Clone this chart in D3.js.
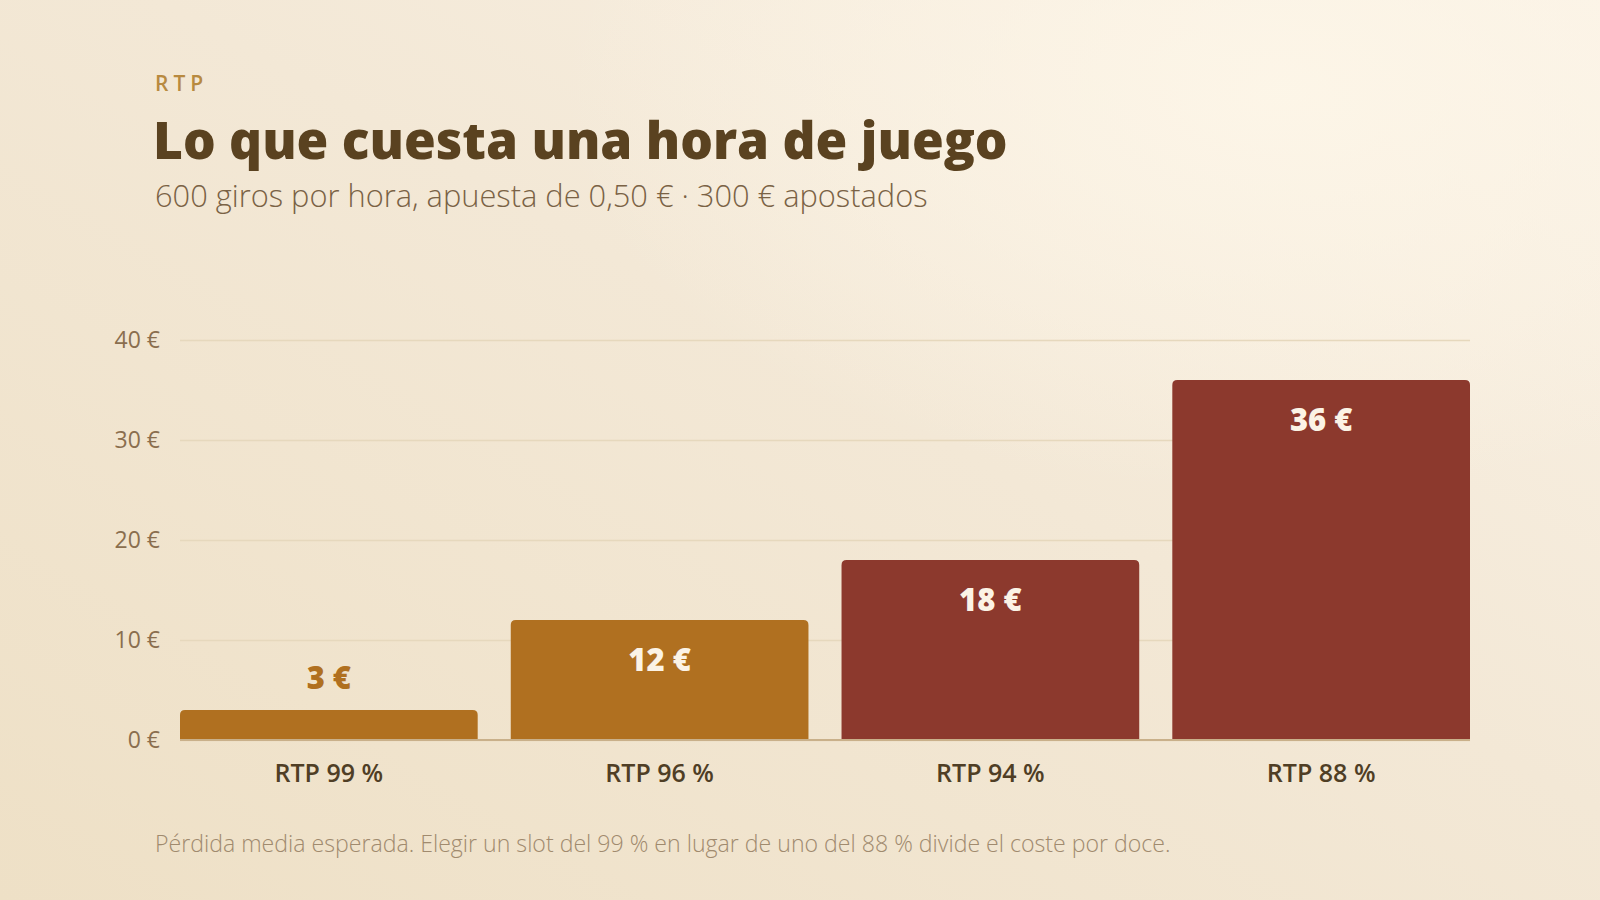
<!DOCTYPE html>
<html>
<head>
<meta charset="utf-8">
<script src="https://cdn.jsdelivr.net/npm/d3@7"></script>
<style>
  html, body { margin: 0; padding: 0; }
  body { width: 1600px; height: 900px; overflow: hidden; }
  svg { display: block; font-family: "Open Sans", "Noto Sans", sans-serif; }
</style>
</head>
<body>
<svg id="chart" width="1600" height="900"></svg>
<script>
// data
const categories = ['RTP 99 %', 'RTP 96 %', 'RTP 94 %', 'RTP 88 %'];
const losses = [3, 12, 18, 36];
const yTicks = [0, 10, 20, 30, 40];
const kicker = 'RTP';
const title = 'Lo que cuesta una hora de juego';
const subtitle = '600 giros por hora, apuesta de 0,50 € · 300 € apostados';
const footnote = 'Pérdida media esperada. Elegir un slot del 99 % en lugar de uno del 88 % divide el coste por doce.';

const W = 1600, H = 900;
const margin = { top: 340, right: 130, bottom: 160, left: 180 };
const amber = '#b07020', brick = '#8c392d';

const svg = d3.select('#chart');

// background
const defs = svg.append('defs');
const bg = defs.append('linearGradient').attr('id', 'bg')
  .attr('x1', '0').attr('y1', '1').attr('x2', '1').attr('y2', '0');
bg.append('stop').attr('offset', '0').attr('stop-color', '#eee0c6');
bg.append('stop').attr('offset', '0.55').attr('stop-color', '#f3e8d6');
bg.append('stop').attr('offset', '1').attr('stop-color', '#faf2e6');
const glow = defs.append('radialGradient').attr('id', 'glow')
  .attr('cx', '0.8').attr('cy', '0.1').attr('r', '0.45');
glow.append('stop').attr('offset', '0').attr('stop-color', '#fdf6e8').attr('stop-opacity', 0.9);
glow.append('stop').attr('offset', '1').attr('stop-color', '#fdf6e8').attr('stop-opacity', 0);
svg.append('rect').attr('width', W).attr('height', H).attr('fill', 'url(#bg)');
svg.append('rect').attr('width', W).attr('height', H).attr('fill', 'url(#glow)');

// fit a text element to a target width (no Poppins here)
function fit(sel, target) {
  const len = sel.node().getComputedTextLength();
  const fs = parseFloat(sel.attr('font-size'));
  sel.attr('font-size', fs * target / len);
}

// header
svg.append('text').attr('x', 155).attr('y', 91)
  .attr('font-size', 21).attr('font-weight', 600)
  .attr('letter-spacing', 5).attr('fill', '#b88a40')
  .text(kicker);
fit(svg.append('text').attr('x', 153).attr('y', 159)
  .attr('font-size', 50).attr('font-weight', 800)
  .attr('fill', '#5a4220').text(title), 855);
fit(svg.append('text').attr('x', 155).attr('y', 207)
  .attr('font-size', 27).attr('font-weight', 300)
  .attr('fill', '#7a6245').text(subtitle), 773);

// scales
const x = d3.scaleBand().domain(categories)
  .range([margin.left, W - margin.right])
  .paddingInner(0.1).paddingOuter(0);
const y = d3.scaleLinear().domain([0, 40])
  .range([H - margin.bottom, margin.top]);

// grid
svg.append('g')
  .attr('transform', `translate(${margin.left},0)`)
  .call(d3.axisLeft(y).tickValues(yTicks)
    .tickSize(-(W - margin.left - margin.right))
    .tickFormat(d => d + ' €').tickPadding(20))
  .call(g => g.select('.domain').remove())
  .call(g => g.selectAll('.tick line').attr('stroke', '#e6d8bd').attr('stroke-width', 1.5))
  .call(g => g.selectAll('.tick text')
    .attr('font-size', 23).attr('font-family', '"Open Sans", sans-serif')
    .attr('fill', '#8a6e4e'));

// bars, top corners rounded
const r = 5;
const barPath = d => {
  const x0 = x(d.cat), x1 = x0 + x.bandwidth();
  const y0 = y(d.v), yb = y(0);
  return `M${x0},${yb}V${y0 + r}Q${x0},${y0} ${x0 + r},${y0}H${x1 - r}Q${x1},${y0} ${x1},${y0 + r}V${yb}Z`;
};
const data = categories.map((c, i) => ({ cat: c, v: losses[i] }));
const colour = d => d.v < 15 ? amber : brick;

svg.append('g').selectAll('path').data(data).join('path')
  .attr('d', barPath).attr('fill', colour);

// baseline
svg.append('line')
  .attr('x1', margin.left).attr('x2', W - margin.right)
  .attr('y1', y(0)).attr('y2', y(0))
  .attr('stroke', '#c9b08a').attr('stroke-width', 2);

// value labels
svg.append('g').selectAll('text').data(data).join('text')
  .attr('x', d => x(d.cat) + x.bandwidth() / 2)
  .attr('y', d => d.v < 5 ? y(d.v) - 21 : y(d.v) + 51)
  .attr('text-anchor', 'middle')
  .attr('font-size', 31).attr('font-weight', 800)
  .attr('fill', d => d.v < 5 ? amber : '#fbf3e6')
  .text(d => d.v + ' €');

// category axis
svg.append('g')
  .attr('transform', `translate(0,${y(0)})`)
  .call(d3.axisBottom(x).tickSize(0).tickPadding(24))
  .call(g => g.select('.domain').remove())
  .call(g => g.selectAll('.tick text')
    .attr('font-size', 25).attr('font-weight', 600)
    .attr('font-family', '"Open Sans", sans-serif')
    .attr('fill', '#4f3e25'));

// footnote
fit(svg.append('text').attr('x', 155).attr('y', 852)
  .attr('font-size', 20).attr('font-weight', 300)
  .attr('fill', '#a08a6e').text(footnote), 1016);
</script>
</body>
</html>
